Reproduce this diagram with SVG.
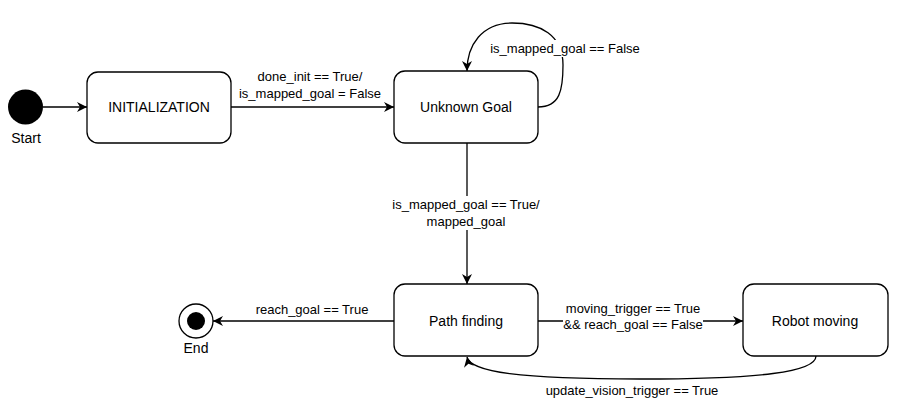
<svg xmlns="http://www.w3.org/2000/svg" width="910" height="410" viewBox="0 0 910 410">
<defs>
<style>
.node{fill:#fff;stroke:#000;stroke-width:1.3}
.edge{fill:none;stroke:#000;stroke-width:1.3}
.nl{font-family:"Liberation Sans",Arial,sans-serif;font-size:14px;fill:#000;text-anchor:middle}
.el{font-family:"Liberation Sans",Arial,sans-serif;font-size:13px;fill:#000;text-anchor:middle}
.bg{fill:#fff}
</style>
<marker id="arr" viewBox="0 0 10 10" refX="10" refY="5" markerWidth="10" markerHeight="10" markerUnits="userSpaceOnUse" orient="auto">
<path d="M0,0 L10,5 L0,10 L3,5 Z" fill="#000"/>
</marker>
</defs>
<rect width="910" height="410" fill="#fff"/>
<g id="connectors">
<path class="edge" d="M43,107 L87,107" marker-end="url(#arr)"/>
<path class="edge" d="M231,107 L394,107" marker-end="url(#arr)"/>
<path class="edge" d="M538,107 C560,107 563,90 563,65 C563,35 540,23 512,23 C482,23 467,45 467,71" marker-end="url(#arr)"/>
<path class="edge" d="M467,143 L467,284" marker-end="url(#arr)"/>
<path class="edge" d="M394,321 L213,321" marker-end="url(#arr)"/>
<path class="edge" d="M538,321 L743,321" marker-end="url(#arr)"/>
<path class="edge" d="M816,356 C816,372 760,379 640,379 C520,379 470,372 467,357" marker-end="url(#arr)"/>
<text class="el" x="310" y="81">done_init == True/</text>
<text class="el" x="310" y="98">is_mapped_goal = False</text>
<rect class="bg" x="489" y="40" width="152" height="17"/>
<text class="el" x="565" y="53">is_mapped_goal == False</text>
<rect class="bg" x="392" y="196" width="149" height="34"/>
<text class="el" x="466" y="209">is_mapped_goal == True/</text>
<text class="el" x="466" y="226">mapped_goal</text>
<text class="el" x="312" y="314">reach_goal == True</text>
<rect class="bg" x="563" y="301" width="140" height="32"/>
<text class="el" x="633" y="313">moving_trigger == True</text>
<text class="el" x="633" y="329">&amp;&amp; reach_goal == False</text>
<text class="el" x="632" y="395">update_vision_trigger == True</text>
</g>
<g id="start">
<circle cx="25.5" cy="107" r="17.5" fill="#000"/>
<text class="nl" x="26" y="143">Start</text>
</g>
<g id="initialization">
<rect class="node" x="87" y="72" width="144" height="71" rx="11" ry="11"/>
<text class="nl" x="159" y="112">INITIALIZATION</text>
</g>
<g id="unknown-goal">
<rect class="node" x="394" y="71" width="144" height="72" rx="11" ry="11"/>
<text class="nl" x="466" y="112">Unknown Goal</text>
</g>
<g id="path-finding">
<rect class="node" x="394" y="284" width="144" height="72" rx="11" ry="11"/>
<text class="nl" x="466" y="326">Path finding</text>
</g>
<g id="robot-moving">
<rect class="node" x="743" y="284" width="145" height="72" rx="11" ry="11"/>
<text class="nl" x="815" y="326">Robot moving</text>
</g>
<g id="end">
<circle cx="196" cy="321" r="17" fill="#fff" stroke="#000" stroke-width="1.3"/>
<circle cx="196" cy="321" r="9" fill="#000"/>
<text class="nl" x="196" y="353">End</text>
</g>
</svg>
